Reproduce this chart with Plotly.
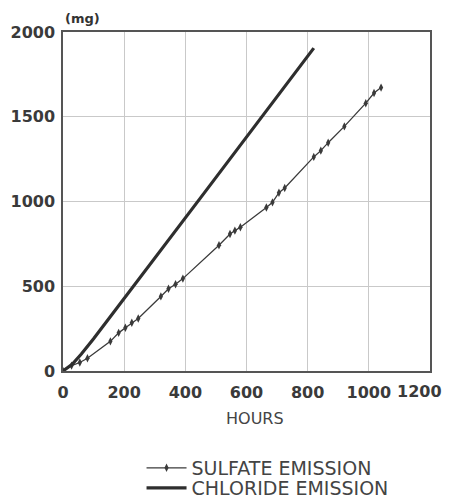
import plotly.graph_objects as go

# Data
sulfate_hours = [0, 28, 55, 80, 155, 182, 204, 225, 246, 320, 345, 368, 392,
                 510, 546, 562, 580, 665, 685, 706, 725, 820, 843, 867, 920,
                 990, 1017, 1040]
sulfate_mg = [0, 32, 50, 75, 175, 225, 255, 285, 310, 440, 485, 512, 545,
              742, 808, 828, 848, 965, 995, 1052, 1080, 1263, 1300, 1347, 1443,
              1580, 1640, 1672]

chloride_hours = [0, 30, 60, 100, 449, 820]
chloride_mg = [0, 40, 100, 190, 1020, 1905]

x_ticks = [0, 200, 400, 600, 800, 1000, 1200]
x_tick_labels = ["0", "200", "400", "600", "800", "1000", ""]
last_x_label = "1200"
y_ticks = [0, 500, 1000, 1500, 2000]

legend_font = dict(family="DejaVu Sans", size=19, color="#444444")
tickfont = dict(family="DejaVu Sans", size=16, weight="bold", color="#3a3a3a")

fig = go.Figure()
fig.add_trace(go.Scatter(
    x=sulfate_hours, y=sulfate_mg, mode="lines+markers",
    name="SULFATE EMISSION", legend="legend",
    line=dict(color="#3a3a3a", width=1.3),
    marker=dict(symbol="diamond-tall", size=6, color="#3a3a3a"),
))
fig.add_trace(go.Scatter(
    x=chloride_hours, y=chloride_mg, mode="lines",
    name="CHLORIDE EMISSION", legend="legend2",
    line=dict(color="#2e2e2e", width=3.2),
))

fig.update_xaxes(
    range=[0, 1200], tickvals=x_ticks, ticktext=x_tick_labels, ticks="",
    tickfont=tickfont,
    showgrid=True, gridcolor="#c9c9c9", gridwidth=1,
    showline=True, linecolor="#555555", linewidth=1.5, mirror=True,
    zeroline=False, automargin=False, ticklabelstandoff=6,
)
fig.update_yaxes(
    range=[0, 2000], tickvals=y_ticks, ticks="", tickfont=tickfont,
    showgrid=True, gridcolor="#c9c9c9", gridwidth=1,
    showline=True, linecolor="#555555", linewidth=1.5, mirror=True,
    zeroline=False, automargin=False, ticklabelstandoff=3,
)

# last x tick label kept inside the page edge
fig.add_annotation(text=last_x_label, xref="paper", yref="paper", x=1.0, y=0,
                   xshift=14, yshift=-20, showarrow=False, xanchor="right",
                   yanchor="middle", font=tickfont)
fig.add_annotation(text="(mg)", xref="paper", yref="paper", x=0.052, y=1.0,
                   yshift=14, showarrow=False, xanchor="center", yanchor="middle",
                   font=dict(family="DejaVu Sans", size=13, weight="bold", color="#333333"))
fig.add_annotation(text="HOURS", xref="paper", yref="paper", x=0.522, y=0,
                   yshift=-47, showarrow=False, xanchor="center", yanchor="middle",
                   font=dict(family="DejaVu Sans", size=16, color="#444444"))

fig.update_layout(
    width=445, height=495,
    margin=dict(l=55, r=23, t=24, b=132, autoexpand=False),
    paper_bgcolor="white", plot_bgcolor="white",
    showlegend=True,
    legend=dict(x=0.214, y=-0.286, xanchor="left", yanchor="middle",
                font=legend_font, bgcolor="rgba(0,0,0,0)", itemwidth=40),
    legend2=dict(x=0.214, y=-0.345, xanchor="left", yanchor="middle",
                 font=legend_font, bgcolor="rgba(0,0,0,0)", itemwidth=40),
)

fig.write_html("out.html")
